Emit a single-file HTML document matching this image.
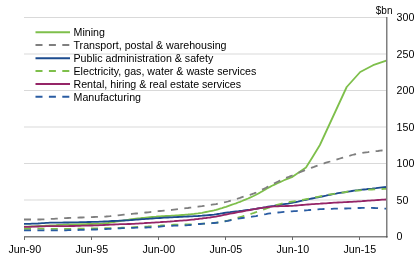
<!DOCTYPE html>
<html><head><meta charset="utf-8"><style>
html,body{margin:0;padding:0;background:#fff;width:416px;height:264px;overflow:hidden}
svg{display:block} .t{will-change:transform}
text{font-family:"Liberation Sans",sans-serif;font-size:10.667px;fill:#000}
</style></head><body>
<svg width="416" height="264" viewBox="0 0 416 264">
<rect width="416" height="264" fill="#fff"/>
<line x1="24" y1="200.0" x2="386.5" y2="200.0" stroke="#d9d9d9" stroke-width="1"/>
<line x1="24" y1="163.5" x2="386.5" y2="163.5" stroke="#d9d9d9" stroke-width="1"/>
<line x1="24" y1="127.0" x2="386.5" y2="127.0" stroke="#d9d9d9" stroke-width="1"/>
<line x1="24" y1="90.5" x2="386.5" y2="90.5" stroke="#d9d9d9" stroke-width="1"/>
<line x1="24" y1="54.0" x2="386.5" y2="54.0" stroke="#d9d9d9" stroke-width="1"/>
<line x1="24" y1="17.5" x2="386.5" y2="17.5" stroke="#d9d9d9" stroke-width="1"/>

<line x1="35.5" y1="32.25" x2="70" y2="32.25" stroke="#7ebf4b" stroke-width="2"/>
<line x1="35.5" y1="45.0" x2="70" y2="45.0" stroke="#7f7f7f" stroke-width="2" stroke-dasharray="7 6.4"/>
<line x1="35.5" y1="58.3" x2="70" y2="58.3" stroke="#1c4b8e" stroke-width="2"/>
<line x1="35.5" y1="71.1" x2="70" y2="71.1" stroke="#7ebf4b" stroke-width="2" stroke-dasharray="7 6.4"/>
<line x1="35.5" y1="83.9" x2="70" y2="83.9" stroke="#952567" stroke-width="2"/>
<line x1="35.5" y1="96.8" x2="70" y2="96.8" stroke="#2a5ca2" stroke-width="2" stroke-dasharray="7 6.4"/>

<polyline points="24.0,226.7 26.0,226.7 28.0,226.6 30.0,226.5 32.0,226.4 34.0,226.3 36.0,226.2 38.0,226.1 40.0,226.0 42.0,225.9 44.0,225.8 46.0,225.7 48.0,225.6 50.0,225.5 52.0,225.4 54.0,225.3 56.0,225.2 58.0,225.0 60.0,224.9 62.0,224.8 64.0,224.7 66.0,224.6 68.0,224.5 70.0,224.5 72.0,224.4 74.0,224.4 76.0,224.3 78.0,224.3 80.0,224.2 82.0,224.2 84.0,224.1 86.0,224.1 88.0,224.0 90.0,224.0 92.0,224.0 94.0,223.9 96.0,223.9 98.0,223.8 100.0,223.7 102.0,223.6 104.0,223.4 106.0,223.2 108.0,223.0 110.0,222.7 112.0,222.4 114.0,222.1 116.0,221.7 118.0,221.4 120.0,221.1 122.0,220.7 124.0,220.4 126.0,220.1 128.0,219.8 130.0,219.5 132.0,219.2 134.0,218.9 136.0,218.7 138.0,218.5 140.0,218.3 142.0,218.0 144.0,217.8 146.0,217.6 148.0,217.4 150.0,217.2 152.0,217.0 154.0,216.8 156.0,216.7 158.0,216.5 160.0,216.4 162.0,216.2 164.0,216.1 166.0,216.0 168.0,215.9 170.0,215.8 172.0,215.7 174.0,215.6 176.0,215.5 178.0,215.4 180.0,215.2 182.0,215.0 184.0,214.8 186.0,214.6 188.0,214.5 190.0,214.3 192.0,214.1 194.0,213.9 196.0,213.6 198.0,213.4 200.0,213.1 202.0,212.8 204.0,212.4 206.0,212.0 208.0,211.6 210.0,211.2 212.0,210.8 214.0,210.4 216.0,209.9 218.0,209.3 220.0,208.7 222.0,208.1 224.0,207.4 226.0,206.8 228.0,206.1 230.0,205.4 232.0,204.7 234.0,204.0 236.0,203.3 238.0,202.5 240.0,201.8 242.0,201.0 244.0,200.1 246.0,199.3 248.0,198.5 250.0,197.6 252.0,196.7 254.0,195.8 256.0,194.8 258.0,193.7 260.0,192.6 262.0,191.4 264.0,190.2 266.0,189.1 268.0,187.9 270.0,186.9 272.0,185.8 274.0,184.9 276.0,183.9 278.0,183.0 280.0,182.1 282.0,181.2 284.0,180.3 286.0,179.4 288.0,178.6 292.5,176.8 306.0,167.5 312.6,157.0 319.9,145.0 346.7,87.0 360.2,72.0 373.1,65.2 386.3,60.6" fill="none" stroke="#7ebf4b" stroke-width="1.8" stroke-linejoin="round"/>
<polyline points="24.0,219.5 26.0,219.5 28.0,219.5 30.0,219.5 32.0,219.5 34.0,219.5 36.0,219.5 38.0,219.5 40.0,219.5 42.0,219.4 44.0,219.3 46.0,219.2 48.0,219.1 50.0,219.0 52.0,218.9 54.0,218.8 56.0,218.7 58.0,218.6 60.0,218.4 62.0,218.3 64.0,218.2 66.0,218.1 68.0,218.0 70.0,217.9 72.0,217.8 74.0,217.8 76.0,217.7 78.0,217.6 80.0,217.5 82.0,217.5 84.0,217.4 86.0,217.3 88.0,217.2 90.0,217.2 92.0,217.1 94.0,217.0 96.0,216.9 98.0,216.8 100.0,216.8 102.0,216.7 104.0,216.6 106.0,216.5 108.0,216.3 110.0,216.2 112.0,216.0 114.0,215.8 116.0,215.6 118.0,215.3 120.0,215.1 122.0,214.9 124.0,214.7 126.0,214.5 128.0,214.3 130.0,214.1 132.0,213.9 134.0,213.7 136.0,213.5 138.0,213.3 140.0,213.1 142.0,212.9 144.0,212.7 146.0,212.5 148.0,212.3 150.0,212.1 152.0,211.9 154.0,211.6 156.0,211.4 158.0,211.2 160.0,211.0 162.0,210.8 164.0,210.6 166.0,210.5 168.0,210.3 170.0,210.1 172.0,209.9 174.0,209.6 176.0,209.4 178.0,209.2 180.0,209.0 182.0,208.7 184.0,208.5 186.0,208.2 188.0,208.0 190.0,207.7 192.0,207.5 194.0,207.2 196.0,207.0 198.0,206.7 200.0,206.4 202.0,206.2 204.0,205.9 206.0,205.6 208.0,205.3 210.0,205.0 212.0,204.7 214.0,204.4 216.0,204.1 218.0,203.7 220.0,203.3 222.0,202.9 224.0,202.5 226.0,202.0 228.0,201.5 230.0,200.9 232.0,200.3 234.0,199.7 236.0,199.1 238.0,198.5 240.0,197.9 242.0,197.2 244.0,196.6 246.0,196.0 248.0,195.4 250.0,194.8 252.0,194.1 254.0,193.4 256.0,192.6 258.0,191.7 260.0,190.8 262.0,189.7 264.0,188.7 266.0,187.7 268.0,186.6 270.0,185.6 272.0,184.5 274.0,183.5 276.0,182.5 278.0,181.6 280.0,180.6 282.0,179.8 284.0,178.9 286.0,178.0 288.0,177.2 290.0,176.3 292.0,175.5 294.0,174.6 296.0,173.8 298.0,173.0 300.0,172.2 302.0,171.4 304.0,170.6 306.0,169.8 308.0,169.1 310.0,168.3 312.0,167.6 314.0,166.9 316.0,166.1 318.0,165.4 320.0,164.7 322.0,164.0 324.0,163.4 326.0,162.7 328.0,162.1 330.0,161.5 332.0,160.8 334.0,160.3 336.0,159.7 338.0,159.1 340.0,158.5 342.0,157.9 344.0,157.3 346.0,156.7 348.0,156.1 350.0,155.6 352.0,155.0 354.0,154.5 356.0,154.1 358.0,153.7 360.0,153.3 362.0,153.0 364.0,152.6 366.0,152.3 368.0,152.1 370.0,151.8 372.0,151.6 374.0,151.4 376.0,151.2 378.0,151.0 380.0,150.7 382.0,150.5 384.0,150.4 386.0,150.2" fill="none" stroke="#7f7f7f" stroke-width="1.8" stroke-dasharray="7 6.4" stroke-linejoin="round"/>
<polyline points="24.0,223.8 26.0,223.8 28.0,223.8 30.0,223.8 32.0,223.7 34.0,223.7 36.0,223.6 38.0,223.5 40.0,223.3 42.0,223.2 44.0,223.1 46.0,222.9 48.0,222.8 50.0,222.7 52.0,222.6 54.0,222.6 56.0,222.6 58.0,222.6 60.0,222.6 62.0,222.6 64.0,222.5 66.0,222.5 68.0,222.5 70.0,222.4 72.0,222.4 74.0,222.4 76.0,222.3 78.0,222.3 80.0,222.2 82.0,222.2 84.0,222.1 86.0,222.1 88.0,222.0 90.0,222.0 92.0,221.9 94.0,221.9 96.0,221.9 98.0,221.8 100.0,221.7 102.0,221.6 104.0,221.5 106.0,221.4 108.0,221.3 110.0,221.1 112.0,221.0 114.0,221.0 116.0,220.9 118.0,220.8 120.0,220.7 122.0,220.6 124.0,220.5 126.0,220.4 128.0,220.3 130.0,220.2 132.0,220.0 134.0,219.9 136.0,219.7 138.0,219.6 140.0,219.4 142.0,219.2 144.0,219.1 146.0,218.9 148.0,218.8 150.0,218.6 152.0,218.5 154.0,218.3 156.0,218.2 158.0,218.1 160.0,218.0 162.0,217.9 164.0,217.7 166.0,217.6 168.0,217.5 170.0,217.4 172.0,217.3 174.0,217.2 176.0,217.1 178.0,217.0 180.0,216.9 182.0,216.8 184.0,216.7 186.0,216.6 188.0,216.5 190.0,216.4 192.0,216.3 194.0,216.2 196.0,216.1 198.0,216.0 200.0,215.8 202.0,215.7 204.0,215.5 206.0,215.4 208.0,215.2 210.0,215.0 212.0,214.8 214.0,214.6 216.0,214.3 218.0,214.0 220.0,213.7 222.0,213.3 224.0,213.0 226.0,212.7 228.0,212.4 230.0,212.2 232.0,211.9 234.0,211.7 236.0,211.5 238.0,211.3 240.0,211.0 242.0,210.8 244.0,210.5 246.0,210.2 248.0,209.9 250.0,209.7 252.0,209.4 254.0,209.1 256.0,208.8 258.0,208.4 260.0,208.1 262.0,207.8 264.0,207.4 266.0,207.1 268.0,206.7 270.0,206.4 272.0,206.1 274.0,205.8 276.0,205.4 278.0,205.1 280.0,204.8 282.0,204.5 284.0,204.2 286.0,203.9 288.0,203.6 290.0,203.2 292.0,202.8 294.0,202.4 296.0,202.0 298.0,201.6 300.0,201.1 302.0,200.7 304.0,200.2 306.0,199.8 308.0,199.3 310.0,198.9 312.0,198.5 314.0,198.1 316.0,197.7 318.0,197.3 320.0,196.9 322.0,196.5 324.0,196.1 326.0,195.7 328.0,195.2 330.0,194.8 332.0,194.3 334.0,193.9 336.0,193.6 338.0,193.2 340.0,192.9 342.0,192.6 344.0,192.3 346.0,192.0 348.0,191.6 350.0,191.3 352.0,191.0 354.0,190.7 356.0,190.4 358.0,190.2 360.0,189.9 362.0,189.7 364.0,189.5 366.0,189.3 368.0,189.0 370.0,188.8 372.0,188.6 374.0,188.3 376.0,188.1 378.0,187.8 380.0,187.6 382.0,187.4 384.0,187.2 386.0,187.0" fill="none" stroke="#1c4b8e" stroke-width="1.8" stroke-linejoin="round"/>
<polyline points="24.0,228.8 26.0,228.8 28.0,228.8 30.0,228.8 32.0,228.8 34.0,228.7 36.0,228.7 38.0,228.7 40.0,228.7 42.0,228.7 44.0,228.8 46.0,228.8 48.0,228.8 50.0,228.8 52.0,228.8 54.0,228.9 56.0,228.9 58.0,228.9 60.0,228.9 62.0,228.9 64.0,229.0 66.0,228.9 68.0,228.9 70.0,228.9 72.0,228.9 74.0,228.8 76.0,228.8 78.0,228.7 80.0,228.7 82.0,228.7 84.0,228.6 86.0,228.6 88.0,228.5 90.0,228.5 92.0,228.4 94.0,228.4 96.0,228.3 98.0,228.3 100.0,228.3 102.0,228.3 104.0,228.2 106.0,228.2 108.0,228.2 110.0,228.2 112.0,228.1 114.0,228.1 116.0,228.0 118.0,227.9 120.0,227.8 122.0,227.7 124.0,227.7 126.0,227.6 128.0,227.5 130.0,227.4 132.0,227.3 134.0,227.2 136.0,227.1 138.0,227.0 140.0,226.9 142.0,226.8 144.0,226.7 146.0,226.6 148.0,226.5 150.0,226.3 152.0,226.2 154.0,226.1 156.0,226.0 158.0,225.8 160.0,225.7 162.0,225.5 164.0,225.4 166.0,225.2 168.0,225.1 170.0,225.0 172.0,224.8 174.0,224.7 176.0,224.7 178.0,224.6 180.0,224.6 182.0,224.5 184.0,224.5 186.0,224.5 188.0,224.4 190.0,224.3 192.0,224.3 194.0,224.2 196.0,224.1 198.0,224.0 200.0,223.9 202.0,223.7 204.0,223.6 206.0,223.5 208.0,223.3 210.0,223.2 212.0,223.1 214.0,222.9 216.0,222.7 218.0,222.5 220.0,222.2 222.0,221.9 224.0,221.4 226.0,221.0 228.0,220.5 230.0,220.0 232.0,219.4 234.0,218.8 236.0,218.3 238.0,217.7 240.0,217.1 242.0,216.5 244.0,215.9 246.0,215.4 248.0,214.8 250.0,214.2 252.0,213.5 254.0,212.9 256.0,212.2 258.0,211.4 260.0,210.7 262.0,210.0 264.0,209.3 266.0,208.6 268.0,207.9 270.0,207.2 272.0,206.5 274.0,205.8 276.0,205.2 278.0,204.6 280.0,204.0 282.0,203.5 284.0,203.1 286.0,202.7 288.0,202.3 290.0,202.0 292.0,201.7 294.0,201.4 296.0,201.1 298.0,200.7 300.0,200.4 302.0,200.0 304.0,199.6 306.0,199.2 308.0,198.8 310.0,198.4 312.0,198.0 314.0,197.6 316.0,197.2 318.0,196.8 320.0,196.4 322.0,196.0 324.0,195.6 326.0,195.2 328.0,194.8 330.0,194.4 332.0,194.1 334.0,193.8 336.0,193.4 338.0,193.1 340.0,192.9 342.0,192.6 344.0,192.3 346.0,192.0 348.0,191.7 350.0,191.5 352.0,191.2 354.0,191.0 356.0,190.7 358.0,190.5 360.0,190.3 362.0,190.2 364.0,190.0 366.0,189.9 368.0,189.7 370.0,189.6 372.0,189.5 374.0,189.4 376.0,189.3 378.0,189.2 380.0,189.1 382.0,189.0 384.0,188.9 386.0,188.8" fill="none" stroke="#7ebf4b" stroke-width="1.8" stroke-dasharray="7 6.4" stroke-linejoin="round"/>
<polyline points="24.0,226.8 26.0,226.8 28.0,226.8 30.0,226.8 32.0,226.7 34.0,226.7 36.0,226.6 38.0,226.5 40.0,226.4 42.0,226.3 44.0,226.3 46.0,226.2 48.0,226.2 50.0,226.2 52.0,226.1 54.0,226.1 56.0,226.1 58.0,226.1 60.0,226.1 62.0,226.1 64.0,226.1 66.0,226.1 68.0,226.1 70.0,226.0 72.0,226.0 74.0,226.0 76.0,225.9 78.0,225.9 80.0,225.8 82.0,225.7 84.0,225.7 86.0,225.6 88.0,225.6 90.0,225.5 92.0,225.5 94.0,225.4 96.0,225.4 98.0,225.3 100.0,225.2 102.0,225.1 104.0,225.0 106.0,224.9 108.0,224.8 110.0,224.7 112.0,224.6 114.0,224.5 116.0,224.4 118.0,224.3 120.0,224.2 122.0,224.2 124.0,224.1 126.0,224.1 128.0,224.0 130.0,224.0 132.0,223.9 134.0,223.8 136.0,223.7 138.0,223.6 140.0,223.4 142.0,223.3 144.0,223.2 146.0,223.0 148.0,222.9 150.0,222.8 152.0,222.7 154.0,222.6 156.0,222.4 158.0,222.3 160.0,222.2 162.0,222.0 164.0,221.9 166.0,221.8 168.0,221.6 170.0,221.5 172.0,221.3 174.0,221.2 176.0,221.0 178.0,220.9 180.0,220.7 182.0,220.6 184.0,220.4 186.0,220.3 188.0,220.1 190.0,219.9 192.0,219.7 194.0,219.5 196.0,219.2 198.0,219.0 200.0,218.7 202.0,218.5 204.0,218.2 206.0,218.0 208.0,217.7 210.0,217.5 212.0,217.2 214.0,216.9 216.0,216.6 218.0,216.2 220.0,215.8 222.0,215.4 224.0,214.9 226.0,214.5 228.0,214.1 230.0,213.7 232.0,213.4 234.0,213.0 236.0,212.6 238.0,212.2 240.0,211.9 242.0,211.5 244.0,211.1 246.0,210.7 248.0,210.4 250.0,210.0 252.0,209.6 254.0,209.2 256.0,208.9 258.0,208.5 260.0,208.2 262.0,207.9 264.0,207.6 266.0,207.3 268.0,207.0 270.0,206.8 272.0,206.6 274.0,206.4 276.0,206.3 278.0,206.3 280.0,206.2 282.0,206.2 284.0,206.1 286.0,206.0 288.0,206.0 290.0,205.9 292.0,205.8 294.0,205.7 296.0,205.5 298.0,205.4 300.0,205.2 302.0,205.0 304.0,204.9 306.0,204.7 308.0,204.5 310.0,204.4 312.0,204.2 314.0,204.1 316.0,203.9 318.0,203.8 320.0,203.7 322.0,203.5 324.0,203.4 326.0,203.3 328.0,203.1 330.0,203.0 332.0,202.9 334.0,202.7 336.0,202.6 338.0,202.5 340.0,202.4 342.0,202.3 344.0,202.2 346.0,202.1 348.0,202.0 350.0,201.9 352.0,201.8 354.0,201.7 356.0,201.6 358.0,201.4 360.0,201.3 362.0,201.2 364.0,201.0 366.0,200.9 368.0,200.7 370.0,200.6 372.0,200.4 374.0,200.3 376.0,200.1 378.0,200.0 380.0,199.9 382.0,199.7 384.0,199.6 386.0,199.5" fill="none" stroke="#952567" stroke-width="1.8" stroke-linejoin="round"/>
<polyline points="24.0,230.3 26.0,230.3 28.0,230.3 30.0,230.3 32.0,230.3 34.0,230.3 36.0,230.3 38.0,230.3 40.0,230.3 42.0,230.3 44.0,230.3 46.0,230.3 48.0,230.3 50.0,230.3 52.0,230.3 54.0,230.3 56.0,230.3 58.0,230.3 60.0,230.3 62.0,230.3 64.0,230.3 66.0,230.3 68.0,230.2 70.0,230.2 72.0,230.1 74.0,230.1 76.0,230.0 78.0,230.0 80.0,229.9 82.0,229.9 84.0,229.8 86.0,229.8 88.0,229.7 90.0,229.6 92.0,229.6 94.0,229.5 96.0,229.5 98.0,229.4 100.0,229.3 102.0,229.2 104.0,229.1 106.0,229.0 108.0,228.9 110.0,228.8 112.0,228.7 114.0,228.6 116.0,228.5 118.0,228.4 120.0,228.3 122.0,228.2 124.0,228.2 126.0,228.1 128.0,228.0 130.0,227.9 132.0,227.9 134.0,227.8 136.0,227.7 138.0,227.7 140.0,227.6 142.0,227.6 144.0,227.5 146.0,227.5 148.0,227.4 150.0,227.4 152.0,227.3 154.0,227.2 156.0,227.1 158.0,226.9 160.0,226.7 162.0,226.4 164.0,226.2 166.0,226.1 168.0,226.0 170.0,225.9 172.0,225.8 174.0,225.7 176.0,225.7 178.0,225.6 180.0,225.6 182.0,225.5 184.0,225.4 186.0,225.3 188.0,225.2 190.0,225.0 192.0,224.8 194.0,224.6 196.0,224.4 198.0,224.2 200.0,224.0 202.0,223.9 204.0,223.7 206.0,223.6 208.0,223.4 210.0,223.3 212.0,223.2 214.0,223.0 216.0,222.8 218.0,222.5 220.0,222.3 222.0,221.9 224.0,221.6 226.0,221.2 228.0,220.8 230.0,220.3 232.0,219.9 234.0,219.5 236.0,219.1 238.0,218.7 240.0,218.4 242.0,218.0 244.0,217.8 246.0,217.5 248.0,217.3 250.0,217.0 252.0,216.7 254.0,216.4 256.0,216.1 258.0,215.7 260.0,215.3 262.0,214.8 264.0,214.4 266.0,214.1 268.0,213.7 270.0,213.4 272.0,213.2 274.0,212.9 276.0,212.7 278.0,212.5 280.0,212.3 282.0,212.1 284.0,211.9 286.0,211.8 288.0,211.6 290.0,211.5 292.0,211.3 294.0,211.2 296.0,211.1 298.0,210.9 300.0,210.8 302.0,210.6 304.0,210.5 306.0,210.3 308.0,210.2 310.0,210.0 312.0,209.8 314.0,209.7 316.0,209.5 318.0,209.4 320.0,209.2 322.0,209.1 324.0,209.0 326.0,209.0 328.0,208.9 330.0,208.8 332.0,208.8 334.0,208.7 336.0,208.7 338.0,208.7 340.0,208.6 342.0,208.6 344.0,208.5 346.0,208.5 348.0,208.4 350.0,208.3 352.0,208.3 354.0,208.2 356.0,208.1 358.0,208.0 360.0,208.0 362.0,207.9 364.0,207.9 366.0,207.9 368.0,207.9 370.0,207.9 372.0,207.9 374.0,208.0 376.0,208.1 378.0,208.2 380.0,208.3 382.0,208.4 384.0,208.6 386.0,208.6" fill="none" stroke="#2a5ca2" stroke-width="1.8" stroke-dasharray="7 6.4" stroke-linejoin="round"/>

<line x1="24" y1="236.75" x2="386" y2="236.75" stroke="#7f7f7f" stroke-width="1.5"/>
<line x1="386.75" y1="17" x2="386.75" y2="237.5" stroke="#7f7f7f" stroke-width="1.5"/>
<rect x="386" y="236" width="1.5" height="1.5" fill="#5a5a5a"/>
<line x1="24.5" y1="237" x2="24.5" y2="240" stroke="#6a6a6a" stroke-width="1"/>
<line x1="91.5" y1="237" x2="91.5" y2="240" stroke="#6a6a6a" stroke-width="1"/>
<line x1="158.5" y1="237" x2="158.5" y2="240" stroke="#6a6a6a" stroke-width="1"/>
<line x1="225.5" y1="237" x2="225.5" y2="240" stroke="#6a6a6a" stroke-width="1"/>
<line x1="292.5" y1="237" x2="292.5" y2="240" stroke="#6a6a6a" stroke-width="1"/>
<line x1="359.5" y1="237" x2="359.5" y2="240" stroke="#6a6a6a" stroke-width="1"/>

<g style="will-change:transform">
<text x="73.5" y="36">Mining</text>
<text x="73.5" y="49">Transport, postal &amp; warehousing</text>
<text x="73.5" y="62">Public administration &amp; safety</text>
<text x="73.5" y="75">Electricity, gas, water &amp; waste services</text>
<text x="73.5" y="88">Rental, hiring &amp; real estate services</text>
<text x="73.5" y="101">Manufacturing</text>

<text x="24.8" y="253" text-anchor="middle">Jun-90</text>
<text x="91.8" y="253" text-anchor="middle">Jun-95</text>
<text x="158.8" y="253" text-anchor="middle">Jun-00</text>
<text x="225.8" y="253" text-anchor="middle">Jun-05</text>
<text x="292.8" y="253" text-anchor="middle">Jun-10</text>
<text x="359.8" y="253" text-anchor="middle">Jun-15</text>

<text x="396.6" y="240.3">0</text>
<text x="396.6" y="203.8">50</text>
<text x="396.6" y="167.3">100</text>
<text x="396.6" y="130.8">150</text>
<text x="396.6" y="94.3">200</text>
<text x="396.6" y="57.8">250</text>
<text x="396.6" y="21.3">300</text>

<text x="375.8" y="14" style="font-size:10px">$bn</text>
</g>
</svg>
</body></html>
